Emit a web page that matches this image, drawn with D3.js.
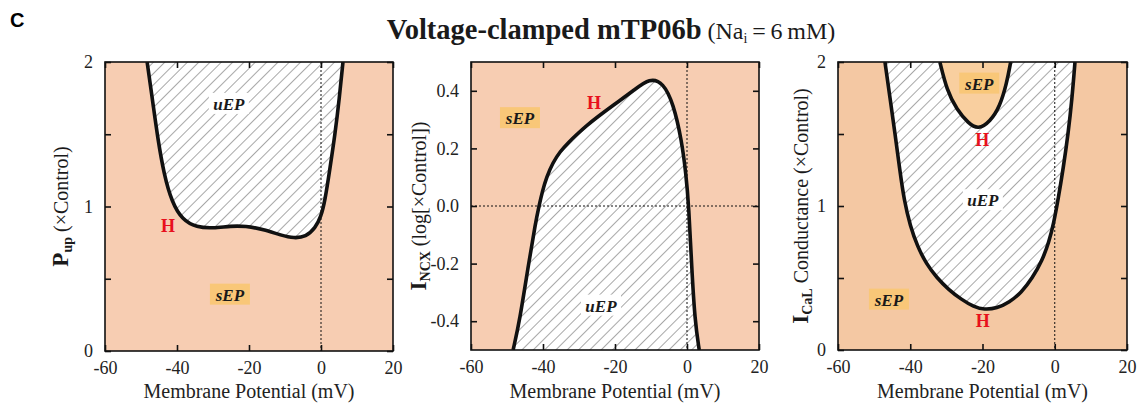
<!DOCTYPE html>
<html><head><meta charset="utf-8">
<script src="https://cdn.jsdelivr.net/npm/d3@7"></script>
<style>
body{margin:0;background:#fff}
svg{display:block}
text{font-family:"Liberation Serif","Times New Roman",serif}
</style>
</head><body>
<svg id="c" width="1145" height="405"></svg>
<script>
// ---------- data ----------
const xTicks = [-60, -40, -20, 0, 20];
const xTickLabels = ["-60", "-40", "-20", "0", "20"];
const pupTicks = [0, 0.5, 1, 1.5, 2];
const pupTickLabels = ["0", "", "1", "", "2"];
const ncxTicks = [-0.4, -0.2, 0, 0.2, 0.4];
const ncxTickLabels = ["-0.4", "-0.2", "0.0", "0.2", "0.4"];
const calTicks = [0, 0.5, 1, 1.5, 2];
const calTickLabels = ["0", "", "1", "", "2"];

// Panel 1: P_up boundary (V, ×Control)
const pupBoundary = [
  [-48.3, 2.0], [-46.6, 1.7], [-45.4, 1.48], [-43.6, 1.22], [-41.4, 1.03],
  [-38.6, 0.91], [-34.5, 0.855], [-30, 0.85], [-25, 0.865], [-21, 0.865],
  [-16, 0.842], [-11, 0.8], [-7.5, 0.78], [-4.2, 0.79], [-1.6, 0.85],
  [0, 0.93], [1.1, 1.04], [2.4, 1.25], [3.9, 1.5], [5.1, 1.75], [6.1, 2.0]
];
// Panel 2: I_NCX boundary (V, log ×Control)
const ncxBoundary = [
  [-48.3, -0.5], [-46.5, -0.4], [-44.0, -0.2], [-42.1, -0.06], [-41.1, 0.0],
  [-40.2, 0.05], [-39.0, 0.1], [-37.3, 0.15], [-35.2, 0.19], [-33.0, 0.22],
  [-30.5, 0.25], [-27.8, 0.28], [-24.8, 0.31], [-20.5, 0.35], [-14.9, 0.40],
  [-10.3, 0.445], [-6.6, 0.428], [-3.8, 0.356], [-1.5, 0.229],
  [-0.3, 0.113], [0.5, 0.0], [1.3, -0.212], [2.2, -0.4], [3.4, -0.5]
];
// Panel 3: I_CaL conductance, outer U and inner island
const calOuter = [
  [-47, 2.0], [-45.6, 1.75], [-44.2, 1.5], [-42.9, 1.25], [-41.7, 1.04], [-40.0, 0.86],
  [-38.0, 0.72], [-35.6, 0.6], [-32.6, 0.5], [-29.4, 0.42], [-25.8, 0.35],
  [-22.4, 0.30], [-19.5, 0.28], [-16, 0.29], [-12.6, 0.33], [-9.2, 0.40],
  [-6.2, 0.5], [-3.5, 0.62], [-1.6, 0.75], [-0.3, 0.88], [0.9, 1.04],
  [2.4, 1.27], [3.7, 1.5], [4.8, 1.75], [5.6, 2.0]
];
const calInner = [
  [-31.8, 2.0], [-29.9, 1.806], [-27.1, 1.667], [-23.9, 1.574], [-21.2, 1.53],
  [-17.9, 1.586], [-15.2, 1.69], [-13.3, 1.852], [-12.2, 2.0]
];

// annotations [text, V, value]
const pupLabels = [["uEP", -25.6, 1.71], ["sEP", -25.3, 0.39]];
const pupH = [[-42.5, 0.865]];
const ncxLabels = [["sEP", -46.4, 0.305], ["uEP", -23.9, -0.346]];
const ncxH = [[-25.8, 0.357]];
const calLabels = [["sEP", -20.9, 1.85], ["uEP", -19.9, 1.04], ["sEP", -45.9, 0.35]];
const calH = [[-20.1, 1.46], [-19.9, 0.2]];

// ---------- drawing ----------
const svg = d3.select("#c");
const defs = svg.append("defs");
const pat = defs.append("pattern").attr("id", "hatch")
  .attr("patternUnits", "userSpaceOnUse").attr("width", 8).attr("height", 8)
  .attr("patternTransform", "rotate(45)");
pat.append("rect").attr("width", 8).attr("height", 8).attr("fill", "#fff");
pat.append("line").attr("x1", 0).attr("y1", 0).attr("x2", 0).attr("y2", 8)
  .attr("stroke", "#6e6e6e").attr("stroke-width", 1.2);

svg.append("text").attr("x", 10).attr("y", 27)
  .style("font-family", "'Liberation Sans',Arial,sans-serif")
  .style("font-weight", "bold").style("font-size", "20px").text("C");

const title = svg.append("text").attr("x", 611).attr("y", 39).attr("text-anchor", "middle")
  .attr("fill", "#1a1a1a");
title.append("tspan").style("font-weight", "bold").style("font-size", "28.5px").text("Voltage-clamped mTP06b");
title.append("tspan").style("font-size", "24px").text(" (Na");
title.append("tspan").style("font-size", "14px").attr("dy", 4).text("i");
title.append("tspan").style("font-size", "24px").attr("dy", -4).text("\u2009=\u20096\u2009mM)");

const line = d3.line().curve(d3.curveBasis);

function panel(cfg) {
  const {x0, x1, y0, y1, yDomain, yTicks, yTickLabels, id} = cfg;
  const x = d3.scaleLinear().domain([-60, 20]).range([x0, x1]);
  const y = d3.scaleLinear().domain(yDomain).range([y1, y0]);
  const g = svg.append("g");
  defs.append("clipPath").attr("id", "clip" + id)
    .append("rect").attr("x", x0).attr("y", y0).attr("width", x1 - x0).attr("height", y1 - y0);
  g.append("rect").attr("x", x0).attr("y", y0).attr("width", x1 - x0).attr("height", y1 - y0)
    .attr("fill", cfg.bg);
  const inner = g.append("g").attr("clip-path", `url(#clip${id})`);
  cfg.draw(inner, x, y);
  inner.append("line").attr("x1", x(0)).attr("x2", x(0)).attr("y1", y0).attr("y2", y1)
    .attr("stroke", "#111").attr("stroke-width", 1).attr("stroke-dasharray", "2,2");
  if (cfg.hzero) inner.append("line").attr("x1", x0).attr("x2", x1).attr("y1", y(0)).attr("y2", y(0))
    .attr("stroke", "#111").attr("stroke-width", 1).attr("stroke-dasharray", "2,2");
  cfg.drawBoundary(inner, x, y);

  (cfg.labels || []).forEach(([t, v, val]) => {
    const isS = t === "sEP";
    const cx = x(v), cy = y(val);
    g.append("rect").attr("x", cx - 20).attr("y", cy - 11).attr("width", 40).attr("height", 21)
      .attr("fill", isS ? "#f9c778" : "#fff");
    g.append("text").attr("x", cx).attr("y", cy + 6).attr("text-anchor", "middle")
      .style("font-weight", "bold").style("font-style", "italic").style("font-size", "17px")
      .attr("fill", "#1a1a1a").text(t);
  });
  (cfg.hs || []).forEach(([v, val]) => {
    g.append("text").attr("x", x(v)).attr("y", y(val) + 6).attr("text-anchor", "middle")
      .style("font-weight", "bold").style("font-size", "18px").attr("fill", "#e8101c").text("H");
  });

  const ax = (a) => a.tickSizeInner(-6).tickSizeOuter(0);
  const gb = g.append("g").attr("transform", `translate(0,${y1})`)
    .call(ax(d3.axisBottom(x).tickValues(xTicks).tickFormat((d, i) => xTickLabels[i])).tickPadding(10));
  const gt = g.append("g").attr("transform", `translate(0,${y0})`)
    .call(ax(d3.axisTop(x).tickValues(xTicks).tickFormat("")));
  const gl = g.append("g").attr("transform", `translate(${x0},0)`)
    .call(ax(d3.axisLeft(y).tickValues(yTicks).tickFormat((d, i) => yTickLabels[i])).tickPadding(12));
  const gr = g.append("g").attr("transform", `translate(${x1},0)`)
    .call(ax(d3.axisRight(y).tickValues(yTicks).tickFormat("")));
  [gb, gt, gl, gr].forEach(a => {
    a.attr("font-family", null);
    a.select(".domain").remove();
    a.selectAll(".tick line").attr("stroke", "#111").attr("stroke-width", 1.6);
    a.selectAll(".tick text").style("font-family", "'Liberation Serif',serif")
      .style("font-size", "18px").attr("fill", "#222");
  });
  g.append("rect").attr("x", x0).attr("y", y0).attr("width", x1 - x0).attr("height", y1 - y0)
    .attr("fill", "none").attr("stroke", "#111").attr("stroke-width", 1.6);

  g.append("text").attr("x", (x0 + x1) / 2).attr("y", 398).attr("text-anchor", "middle")
    .style("font-size", "20px").attr("fill", "#222").text("Membrane Potential (mV)");
  const yl = g.append("text").attr("transform", `translate(${cfg.ylx},${(y0 + y1) / 2}) rotate(-90)`)
    .attr("text-anchor", "middle").attr("fill", "#1a1a1a");
  yl.append("tspan").style("font-weight", "bold").style("font-size", "23px").text(cfg.ylMain);
  yl.append("tspan").style("font-weight", "bold").style("font-size", "14px").attr("dy", 4).text(cfg.ylSub);
  yl.append("tspan").style("font-size", "20px").attr("dy", -4).text(cfg.ylRest);
}

function closedTop(pts, x, y, yTop) {
  const first = pts[0], last = pts[pts.length - 1];
  return line(pts.map(p => [x(p[0]), y(p[1])])) +
    `L${x(last[0])},${y(yTop)}L${x(first[0])},${y(yTop)}Z`;
}
function boundaryPath(sel, pts, x, y) {
  sel.append("path").attr("d", line(pts.map(p => [x(p[0]), y(p[1])])))
    .attr("fill", "none").attr("stroke", "#111").attr("stroke-width", 3.6)
    .attr("stroke-linejoin", "round");
}

panel({
  id: 1, x0: 105, x1: 393, y0: 62, y1: 351, yDomain: [0, 2],
  yTicks: pupTicks, yTickLabels: pupTickLabels, bg: "#f7cdb2",
  ylx: 68, ylMain: "P", ylSub: "up", ylRest: " (×Control)",
  labels: pupLabels, hs: pupH,
  draw: (s, x, y) => s.append("path").attr("d", closedTop(pupBoundary, x, y, 2.2)).attr("fill", "url(#hatch)"),
  drawBoundary: (s, x, y) => boundaryPath(s, pupBoundary, x, y)
});
panel({
  id: 2, x0: 471, x1: 759, y0: 62, y1: 350, yDomain: [-0.5, 0.5], hzero: true,
  yTicks: ncxTicks, yTickLabels: ncxTickLabels, bg: "#f7cdb2",
  ylx: 426, ylMain: "I", ylSub: "NCX", ylRest: " (log[×Control])",
  labels: ncxLabels, hs: ncxH,
  draw: (s, x, y) => s.append("path").attr("d", closedTop(ncxBoundary, x, y, -0.6)).attr("fill", "url(#hatch)"),
  drawBoundary: (s, x, y) => boundaryPath(s, ncxBoundary, x, y)
});
panel({
  id: 3, x0: 838, x1: 1127, y0: 62, y1: 350, yDomain: [0, 2],
  yTicks: calTicks, yTickLabels: calTickLabels, bg: "#f4c8a3",
  ylx: 808, ylMain: "I", ylSub: "CaL", ylRest: " Conductance (×Control)",
  labels: calLabels, hs: calH,
  draw: (s, x, y) => {
    s.append("path").attr("d", closedTop(calOuter, x, y, 2.2)).attr("fill", "url(#hatch)");
    s.append("path").attr("d", closedTop(calInner, x, y, 2.2)).attr("fill", "#f9cf9f");
  },
  drawBoundary: (s, x, y) => { boundaryPath(s, calOuter, x, y); boundaryPath(s, calInner, x, y); }
});
</script>
</body></html>
